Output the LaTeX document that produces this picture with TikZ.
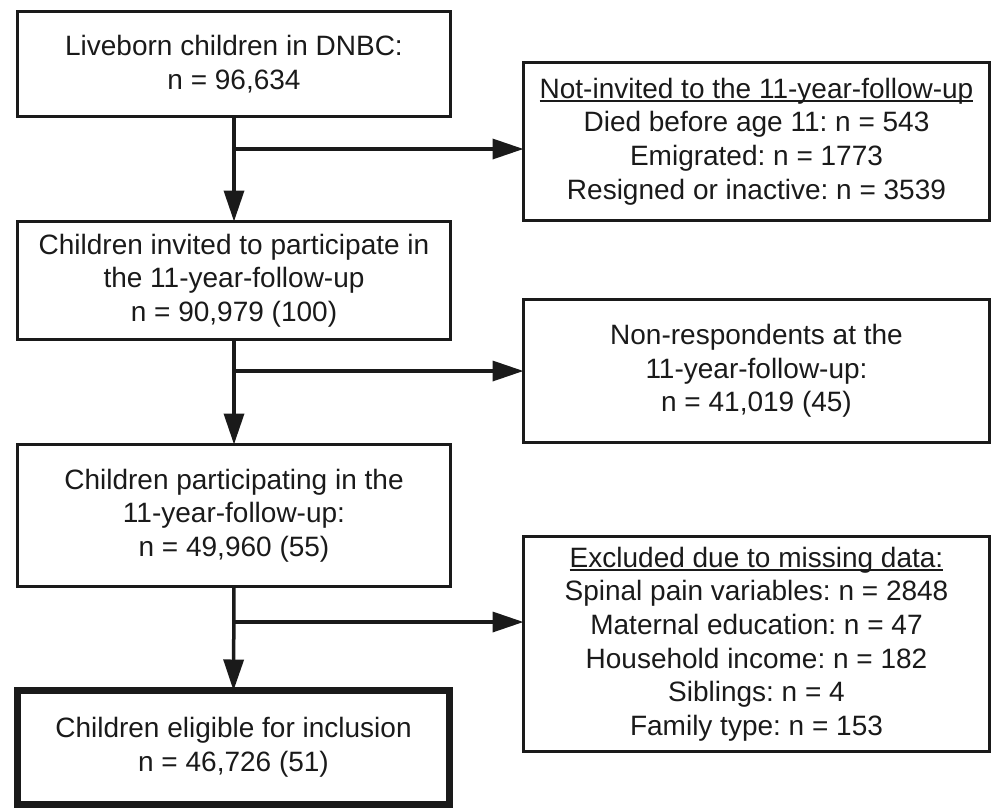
\documentclass[tikz,border=0pt]{standalone}
\usepackage{fontspec}
\setmainfont{Liberation Sans}
\usetikzlibrary{arrows.meta}
\definecolor{ink}{RGB}{26,26,26}
\frenchspacing
\newcommand\ulbox[1]{\setbox0\hbox{#1}\rlap{\rule[-4pt]{\wd0}{2pt}}\box0}
\begin{document}
\begin{tikzpicture}[x=1pt,y=-1pt,
  box/.style={draw=ink, line width=3pt, rectangle, inner sep=0pt, outer sep=0pt,
    align=center, text=ink, font=\fontsize{28}{33.6}\selectfont\frenchspacing},
  thickbox/.style={box, line width=7pt},
  conn/.style={draw=ink, line width=3.5pt},
  arr/.style={conn, -{Triangle[length=31pt,width=20pt]}}]
\useasboundingbox (0,0) rectangle (992,809);
\node[box, minimum width=433pt, minimum height=105pt] (b1) at (234,64)
  {Liveborn children in DNBC:\\n = 96,634};
\node[box, minimum width=433pt, minimum height=118pt] (b2) at (234,280.5)
  {Children invited to participate in\\the 11-year-follow-up\\n = 90,979 (100)};
\node[box, minimum width=433pt, minimum height=142pt] (b3) at (234,515.5)
  {Children participating in the\\11-year-follow-up:\\n = 49,960 (55)};
\node[thickbox, minimum width=432pt, minimum height=114pt] (b4) at (233.5,747.5)
  {Children eligible for inclusion\\n = 46,726 (51)};
\node[box, minimum width=466pt, minimum height=158pt] (r1) at (756.5,141.5)
  {\ulbox{Not-invited to the 11-year-follow-up}\\Died before age 11: n = 543\\Emigrated: n = 1773\\Resigned or inactive: n = 3539};
\node[box, minimum width=466pt, minimum height=143pt] (r2) at (756.5,371)
  {Non-respondents at the\\11-year-follow-up:\\n = 41,019 (45)};
\node[box, minimum width=466pt, minimum height=215pt] (r3) at (756.5,644)
  {\ulbox{Excluded due to missing data:}\\Spinal pain variables: n = 2848\\Maternal education: n = 47\\Household income: n = 182\\Siblings: n = 4\\Family type: n = 153};
\coordinate (j1) at (234,149);
\coordinate (j2) at (234,371);
\coordinate (j3) at (234,622);
\draw[arr] (b1.south) -- (b2.north);
\draw[arr] (b2.south) -- (b3.north);
\draw[arr] (b3.south) -- (b4.north);
\draw[arr] (j1) -- (j1 -| r1.west);
\draw[arr] (j2) -- (j2 -| r2.west);
\draw[arr] (j3) -- (j3 -| r3.west);
\end{tikzpicture}
\end{document}
